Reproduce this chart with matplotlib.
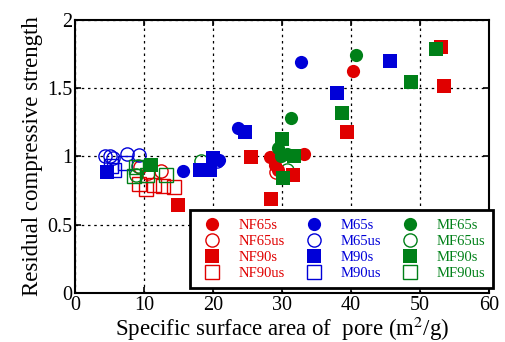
import numpy as np
import matplotlib.pyplot as plt

plt.rcParams['font.family'] = ['Liberation Serif', 'DejaVu Serif']
plt.rcParams['mathtext.fontset'] = 'stix'

# (x: specific surface area, y: residual compressive strength)
NF65s_x = [40.3, 33.2, 28.3, 29.0, 29.5]
NF65s_y = [1.63, 1.018, 0.994, 0.94, 0.90]
NF65us_x = [9.4, 10.6, 12.5, 29.1]
NF65us_y = [0.92, 0.877, 0.896, 0.89]
NF90s_x = [53.0, 53.5, 39.5, 25.5, 31.6, 28.4, 15.0]
NF90s_y = [1.80, 1.514, 1.177, 0.994, 0.864, 0.689, 0.645]
NF90us_x = [9.3, 10.3, 11.4, 12.8, 14.3]
NF90us_y = [0.80, 0.76, 0.79, 0.784, 0.78]

M65s_x = [32.7, 23.7, 15.65, 20.9]
M65s_y = [1.69, 1.21, 0.896, 0.974]
M65us_x = [4.35, 5.07, 5.46, 7.5, 9.3, 20.6]
M65us_y = [1.0, 1.0, 0.99, 1.02, 1.01, 0.97]
M90s_x = [45.7, 38.0, 24.7, 20.0, 18.1, 19.6, 4.6]
M90s_y = [1.70, 1.465, 1.177, 0.99, 0.90, 0.90, 0.89]
M90us_x = [5.2, 5.6, 7.2]
M90us_y = [0.93, 0.90, 0.95]

MF65s_x = [40.8, 31.3, 29.5, 29.8, 30.8]
MF65s_y = [1.74, 1.28, 1.06, 1.0, 1.02]
MF65us_x = [18.2, 30.8, 8.9, 9.2]
MF65us_y = [0.97, 0.90, 0.864, 0.93]
MF90s_x = [52.4, 48.7, 38.7, 30.0, 31.8, 30.2, 11.0]
MF90s_y = [1.785, 1.546, 1.316, 1.126, 1.0, 0.845, 0.94]
MF90us_x = [8.9, 8.5, 10.5, 13.2]
MF90us_y = [0.925, 0.857, 0.864, 0.864]

red = '#e00000'
blue = '#0000d8'
green = '#008018'

fig = plt.figure(figsize=(5.05, 3.42), dpi=100)
ax = fig.add_axes([0.1485, 0.1433, 0.8195, 0.7982])

ms = 9.5

def filled(x, y, m, c, lab):
    ax.plot(x, y, ls='none', marker=m, ms=ms, color=c, mec=c, mew=0, label=lab)

def hollow(x, y, m, c, lab):
    ax.plot(x, y, ls='none', marker=m, ms=ms, mfc='none', mec=c, mew=1.0, label=lab)

hollow(NF65us_x, NF65us_y, 'o', red, 'NF65us')
hollow(NF90us_x, NF90us_y, 's', red, 'NF90us')
hollow(M65us_x, M65us_y, 'o', blue, 'M65us')
hollow(M90us_x, M90us_y, 's', blue, 'M90us')
hollow(MF65us_x, MF65us_y, 'o', green, 'MF65us')
hollow(MF90us_x, MF90us_y, 's', green, 'MF90us')
filled(NF65s_x, NF65s_y, 'o', red, 'NF65s')
filled(NF90s_x, NF90s_y, 's', red, 'NF90s')
filled(MF65s_x, MF65s_y, 'o', green, 'MF65s')
filled(MF90s_x, MF90s_y, 's', green, 'MF90s')
filled(M65s_x, M65s_y, 'o', blue, 'M65s')
filled(M90s_x, M90s_y, 's', blue, 'M90s')

order = ['NF65s', 'NF65us', 'NF90s', 'NF90us',
         'M65s', 'M65us', 'M90s', 'M90us',
         'MF65s', 'MF65us', 'MF90s', 'MF90us']
handles, labels = ax.get_legend_handles_labels()
hmap = dict(zip(labels, handles))
leg = ax.legend([hmap[l] for l in order], order, ncol=3, loc='lower right',
                fontsize=10.5, frameon=True, fancybox=False,
                edgecolor='black', framealpha=1, borderpad=0.55, handletextpad=0.8,
                columnspacing=1.0, labelspacing=0.2, borderaxespad=0,
                bbox_to_anchor=(1.01, 0.018))
leg.get_frame().set_linewidth(2)
for t, c in zip(leg.get_texts(), [red]*4 + [blue]*4 + [green]*4):
    t.set_color(c)

ax.set_xlim(0, 60)
ax.set_ylim(0, 2)
ax.set_xticks([0, 10, 20, 30, 40, 50, 60])
ax.set_yticks([0, 0.5, 1, 1.5, 2])
ax.set_yticklabels(['0', '0.5', '1', '1.5', '2'])
ax.grid(True, color='black', ls=(0, (2, 3)), lw=0.9)
ax.set_axisbelow(True)
ax.tick_params(direction='in', top=True, right=True, labelsize=14.5, length=4, width=1.2, pad=2)
for s in ax.spines.values():
    s.set_linewidth(1.5)

ax.set_xlabel('Specific surface area of  pore (m$^2$/g)', fontsize=16.5)
ax.xaxis.set_label_coords(0.5, -0.08)
ax.set_ylabel('Residual compressive strength', fontsize=16.5, labelpad=3)

fig.savefig('out.png', dpi=100)
